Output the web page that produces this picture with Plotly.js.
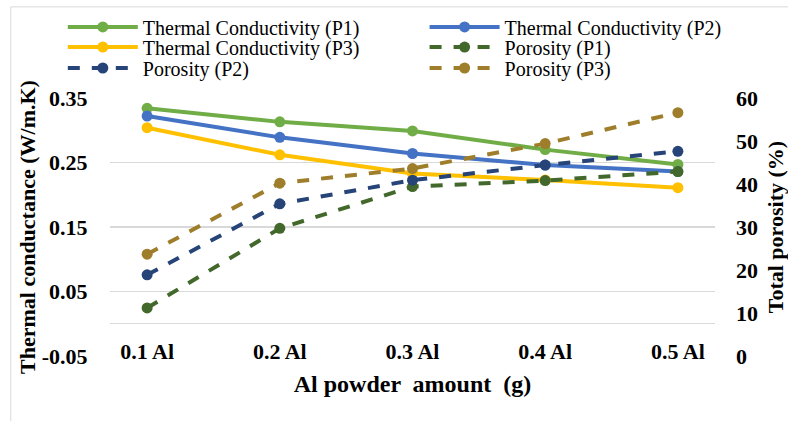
<!DOCTYPE html>
<html>
<head>
<meta charset="utf-8">
<script src="https://cdn.plot.ly/plotly-3.0.1.min.js"></script>
<style>html,body{margin:0;padding:0;background:#fff;}
#chart{position:relative;z-index:2;width:788px;height:421px;}
#warm{position:absolute;left:300px;top:200px;z-index:1;font-size:18px;color:#fff;white-space:nowrap;}</style>
</head>
<body>
<div id="chart"></div>
<div id="warm" aria-hidden="true"><span style="font-family:'Liberation Serif'">a</span><b style="font-family:'Liberation Serif'">a</b><span style="font-family:'DejaVu Serif'">a</span><span style="font-family:serif">a</span><span style="font-family:'Times New Roman'">a</span></div>
<script>
const categories = ["0.1 Al", "0.2 Al", "0.3 Al", "0.4 Al", "0.5 Al"];
const tcP1 = [0.334, 0.313, 0.299, 0.270, 0.247];
const tcP2 = [0.322, 0.289, 0.264, 0.246, 0.236];
const tcP3 = [0.304, 0.262, 0.233, 0.223, 0.211];
const porP1 = [11.2, 29.7, 39.4, 40.8, 42.9];
const porP2 = [18.9, 35.4, 40.9, 44.4, 47.6];
const porP3 = [23.7, 40.2, 43.6, 49.4, 56.6];
const leftTicks = [-0.05, 0.05, 0.15, 0.25, 0.35];

const FONT = "Liberation Serif";

function solid(name, y, color, leg) {
  return {x: categories, y: y, name: name, type: "scatter", mode: "lines+markers",
    line: {color: color, width: 4}, marker: {color: color, size: 11}, yaxis: "y", legend: leg};
}
function dashed(name, y, color, leg) {
  return {x: categories, y: y, name: name, type: "scatter", mode: "lines+markers",
    line: {color: color, width: 4, dash: "dash"}, marker: {color: color, size: 11}, yaxis: "y2", legend: leg};
}

const data = [
  solid("Thermal Conductivity (P1)", tcP1, "#70AD47", "legend"),
  solid("Thermal Conductivity (P2)", tcP2, "#4472C4", "legend2"),
  solid("Thermal Conductivity (P3)", tcP3, "#FFC000", "legend3"),
  dashed("Porosity (P1)", porP1, "#43682B", "legend4"),
  dashed("Porosity (P2)", porP2, "#264478", "legend5"),
  dashed("Porosity (P3)", porP3, "#9E7E2A", "legend6")
];

function leg(x, y) {
  return {orientation: "v", yanchor: "middle", xanchor: "left", x: x, y: y,
    itemwidth: 70, tracegroupgap: 0, bgcolor: "rgba(0,0,0,0)", borderwidth: 0,
    font: {family: FONT, size: 20, color: "#000"}};
}
const colL = -0.078, colR = 0.52;
const row1 = 1.251, row2 = 1.180, row3 = 1.106;

const layout = {
  width: 788, height: 421,
  margin: {l: 110, r: 73, t: 98, b: 40, autoexpand: false},
  paper_bgcolor: "#fff", plot_bgcolor: "#fff",
  font: {family: FONT, color: "#000", size: 15},
  showlegend: true,
  legend: leg(colL, row1),
  legend2: leg(colR, row1),
  legend3: leg(colL, row2),
  legend4: leg(colR, row2),
  legend5: leg(colL, row3),
  legend6: leg(colR, row3),
  xaxis: {type: "category", showgrid: false, showline: false, zeroline: false, ticks: "",
    anchor: "free", position: 0.16,
    tickfont: {family: FONT, size: 22, color: "#000", weight: "bold"},
    title: {text: "<b>Al powder  amount  (g)</b>", font: {family: FONT, size: 24, color: "#000"}, standoff: 12}},
  yaxis: {domain: [0.088, 1], range: [-0.05, 0.35], tickvals: leftTicks,
    ticktext: leftTicks.map(v => v.toFixed(2)),
    showgrid: true, gridcolor: "#D9D9D9", gridwidth: 1.3,
    zeroline: true, zerolinecolor: "#D9D9D9", zerolinewidth: 1.3,
    showline: false, ticks: "outside", ticklen: 17, tickcolor: "rgba(0,0,0,0)", ticklabelstandoff: 0,
    tickfont: {family: FONT, size: 22, color: "#000", weight: "bold"},
    title: {text: "<b>Thermal conductance (W/m.K)</b>", font: {family: FONT, size: 22, color: "#000"}, standoff: 0}},
  yaxis2: {overlaying: "y", side: "right", range: [0, 60], dtick: 10,
    showgrid: false, zeroline: false, showline: false, ticks: "", ticklabelstandoff: 20,
    tickfont: {family: FONT, size: 22, color: "#000", weight: "bold"},
    title: {text: "<b>Total porosity (%)</b>", font: {family: FONT, size: 22, color: "#000"}, standoff: 14}},
  shapes: [
    {type: "line", xref: "paper", yref: "paper", x0: -0.164, x1: 1.15, y0: 1.322, y1: 1.322, line: {color: "#D9D9D9", width: 1}},
    {type: "line", xref: "paper", yref: "paper", x0: -0.164, x1: -0.164, y0: -0.2, y1: 1.322, line: {color: "#D9D9D9", width: 1}}
  ]
};

Plotly.newPlot("chart", data, layout, {displayModeBar: false, staticPlot: true});
</script>
</body>
</html>
